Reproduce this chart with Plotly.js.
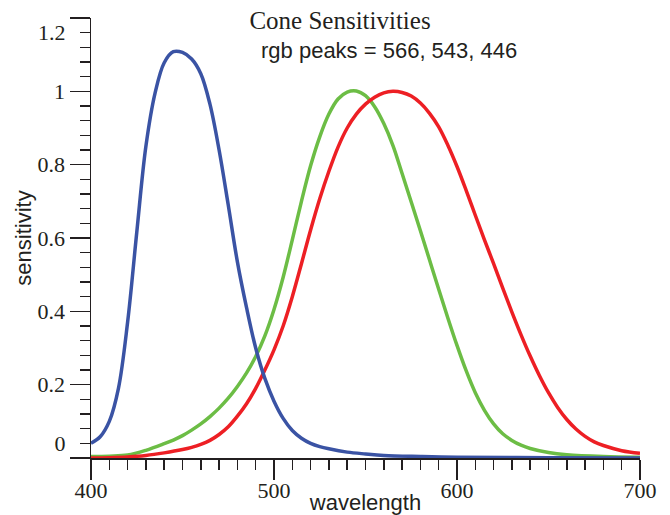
<!DOCTYPE html>
<html>
<head>
<meta charset="utf-8">
<script src="https://cdn.plot.ly/plotly-3.0.1.min.js"></script>
<style>html,body{margin:0;padding:0;background:#fff;}#chart{width:670px;height:515px;}</style>
</head>
<body>
<div id="chart"></div>
<script>
// Wavelengths (nm) and sensitivities
const blueWl = [400,405,410,415,420,425,430,435,440,445,450,455,460,465,470,475,480,485,490,495,500,505,510,515,520,525,530,540,550,560,580,600,650,700];
const blueVal = [0.04,0.058,0.1,0.19,0.37,0.615,0.85,0.995,1.078,1.108,1.106,1.088,1.048,0.965,0.84,0.69,0.535,0.41,0.3,0.217,0.155,0.108,0.075,0.054,0.04,0.031,0.025,0.016,0.011,0.007,0.004,0.002,0.001,0.0];

const greenWl = [400,410,420,430,440,445,450,455,460,465,470,475,480,485,490,495,500,505,510,515,520,525,530,535,540,545,550,555,560,565,570,575,580,585,590,595,600,605,610,615,620,625,630,635,640,650,660,680,700];
const greenVal = [0.004,0.005,0.008,0.021,0.039,0.049,0.061,0.076,0.093,0.113,0.136,0.163,0.195,0.232,0.277,0.333,0.405,0.493,0.595,0.7,0.797,0.876,0.938,0.979,0.998,1.001,0.988,0.958,0.912,0.852,0.776,0.698,0.62,0.54,0.46,0.382,0.307,0.238,0.178,0.13,0.093,0.066,0.048,0.035,0.026,0.015,0.009,0.004,0.002];

const redWl = [400,410,420,430,440,450,455,460,465,470,475,480,485,490,495,500,505,510,515,520,525,530,535,540,545,550,555,560,565,570,575,580,585,590,595,600,605,610,615,620,625,630,635,640,645,650,655,660,665,670,675,680,690,700];
const redVal = [0.0,0.001,0.003,0.007,0.014,0.023,0.029,0.037,0.048,0.064,0.085,0.114,0.148,0.19,0.24,0.295,0.36,0.44,0.53,0.622,0.707,0.782,0.848,0.9,0.938,0.965,0.984,0.996,1.0,0.997,0.987,0.968,0.94,0.903,0.853,0.795,0.73,0.662,0.595,0.53,0.463,0.398,0.336,0.278,0.225,0.178,0.138,0.105,0.079,0.059,0.044,0.034,0.02,0.013];

// Axis tick labels
const xTickVals = [400,500,600,700];
const xTickText = ['400','500','600','700'];
const yTickVals = [0,0.2,0.4,0.6,0.8,1.0,1.2];
const yTickText = ['','0.2','0.4','0.6','0.8','1',''];
const yEndLabelVals = [0.04,1.16];
const yEndLabelText = ['0','1.2'];

const titleText = 'Cone Sensitivities';
const peaksText = 'rgb peaks = 566, 543, 446';

const ink = '#231f20';
const serif = 'Liberation Serif, Times New Roman, serif';
const sans = 'Liberation Sans, Arial, sans-serif';

function curve(x, y, color, name) {
  return {x: x, y: y, type: 'scatter', mode: 'lines', name: name,
          line: {color: color, width: 3.5, shape: 'spline', smoothing: 1},
          hoverinfo: 'x+y', showlegend: false};
}

const traces = [
  curve(greenWl, greenVal, '#6cbd45', 'green'),
  curve(redWl, redVal, '#ed1f24', 'red'),
  curve(blueWl, blueVal, '#3a53a4', 'blue'),
  {x: [xTickVals[0]], y: [yTickVals[0]], yaxis: 'y2', type: 'scatter', mode: 'none',
   hoverinfo: 'skip', showlegend: false}
];

const layout = {
  width: 670, height: 515,
  margin: {l: 91, r: 30, t: 18, b: 57},
  paper_bgcolor: '#fff', plot_bgcolor: '#fff',
  showlegend: false,
  title: {text: titleText, font: {family: serif, size: 25, color: ink},
          x: 340/670, xref: 'container', xanchor: 'center',
          y: 1 - 20/515, yref: 'container', yanchor: 'middle'},
  xaxis: {
    range: [400, 700], showgrid: false, zeroline: false,
    showline: true, linecolor: ink, linewidth: 1.5,
    tickmode: 'array', tickvals: xTickVals, ticktext: xTickText,
    ticks: 'outside', ticklen: 20, tickwidth: 1.5, tickcolor: ink,
    minor: {dtick: 10, tick0: 400, ticks: 'outside', ticklen: 10, tickwidth: 1.5, tickcolor: ink, showgrid: false},
    tickfont: {family: serif, size: 22, color: ink},
    ticklabelstandoff: -8,
    title: {text: 'wavelength', font: {family: sans, size: 22, color: ink}, standoff: 10},
    layer: 'below traces', fixedrange: true
  },
  yaxis: {
    range: [0, 1.2], showgrid: false, zeroline: false,
    showline: true, linecolor: ink, linewidth: 1.5,
    tickmode: 'array', tickvals: yTickVals, ticktext: yTickText,
    ticks: 'outside', ticklen: 20, tickwidth: 1.5, tickcolor: ink,
    minor: {dtick: 0.04, tick0: 0, ticks: 'outside', ticklen: 10, tickwidth: 1.5, tickcolor: ink, showgrid: false},
    tickfont: {family: serif, size: 22, color: ink},
    title: {text: 'sensitivity', font: {family: sans, size: 22, color: ink}},
    layer: 'below traces', fixedrange: true
  },
  yaxis2: {
    range: [0, 1.2], overlaying: 'y', side: 'left', anchor: 'x',
    showgrid: false, zeroline: false, showline: false,
    tickmode: 'array', tickvals: yEndLabelVals, ticktext: yEndLabelText,
    ticks: 'outside', ticklen: 20, tickcolor: 'rgba(0,0,0,0)',
    tickfont: {family: serif, size: 22, color: ink}, fixedrange: true
  },
  annotations: [{
    text: peaksText, xref: 'paper', yref: 'paper',
    x: (389-91)/549, y: (458-50.5)/440, xanchor: 'center', yanchor: 'middle',
    showarrow: false, font: {family: sans, size: 22, color: ink}
  }]
};

Plotly.newPlot('chart', traces, layout, {displayModeBar: false, staticPlot: true});
</script>
</body>
</html>
